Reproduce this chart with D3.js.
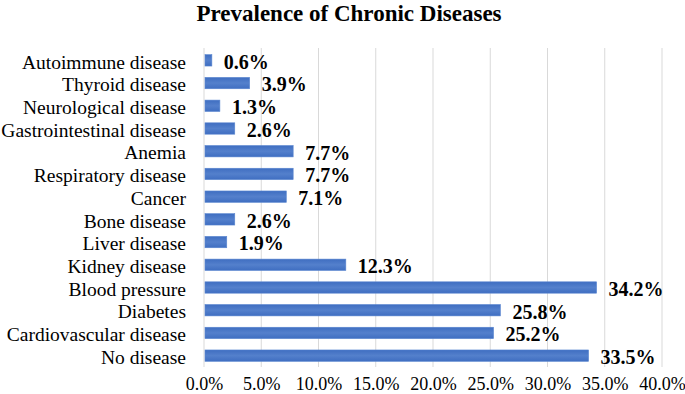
<!DOCTYPE html>
<html lang="en">
<head>
<meta charset="utf-8">
<title>Prevalence of Chronic Diseases</title>
<style>
  body { margin: 0; background: #fff; }
  svg text { font-family: "Liberation Serif", "Times New Roman", serif !important; fill: #000; }
</style>
</head>
<body>
<div id="chart"></div>
<script src="https://d3js.org/d3.v7.min.js"></script>
<script>
// Categories from top to bottom
var categories = [
  "Autoimmune disease", "Thyroid disease", "Neurological disease",
  "Gastrointestinal disease", "Anemia", "Respiratory disease", "Cancer",
  "Bone disease", "Liver disease", "Kidney disease", "Blood pressure",
  "Diabetes", "Cardiovascular disease", "No disease"
];
var values = [0.6, 3.9, 1.3, 2.6, 7.7, 7.7, 7.1, 2.6, 1.9, 12.3, 34.2, 25.8, 25.2, 33.5];
var ticks = [0, 5, 10, 15, 20, 25, 30, 35, 40];

var W = 685, H = 394;
var margin = { top: 48, right: 23, bottom: 27, left: 204 };
var width = W - margin.left - margin.right,
    height = H - margin.top - margin.bottom;

var svg = d3.select("#chart").append("svg")
  .attr("width", W)
  .attr("height", H);

// bar gradient (Excel-like shading)
var grad = svg.append("defs").append("linearGradient")
  .attr("id", "barGrad")
  .attr("x1", 0).attr("y1", 0).attr("x2", 0).attr("y2", 1);
grad.append("stop").attr("offset", "0%").attr("stop-color", "#3f6ec1");
grad.append("stop").attr("offset", "50%").attr("stop-color", "#5480cc");
grad.append("stop").attr("offset", "100%").attr("stop-color", "#3f6ec1");

// title
svg.append("text")
  .attr("x", 349)
  .attr("y", 20.5)
  .attr("text-anchor", "middle")
  .style("font-size", "23px")
  .style("font-weight", "bold")
  .text("Prevalence of Chronic Diseases");

var g = svg.append("g")
  .attr("transform", `translate(${margin.left},${margin.top})`);

var x = d3.scaleLinear().domain([0, 40]).range([0, 458]);
var y = d3.scaleBand().domain(categories).range([1, height]).paddingInner(0.5).paddingOuter(0.25);

// gridlines
g.append("g")
  .selectAll("line")
  .data(ticks)
  .join("line")
  .attr("x1", d => x(d)).attr("x2", d => x(d))
  .attr("y1", 0).attr("y2", height)
  .attr("stroke", "#d9d9d9")
  .attr("stroke-width", 1);

// x tick labels
var xAxis = g.append("g")
  .attr("transform", `translate(0,${height})`)
  .call(d3.axisBottom(x).tickValues(ticks).tickSize(0).tickPadding(0)
    .tickFormat(d => d.toFixed(1) + "%"));
xAxis.select(".domain").remove();
xAxis.selectAll("text")
  .attr("y", 0)
  .attr("dy", "23px")
  .style("font-size", "18px");

// y axis labels
var yAxis = g.append("g")
  .call(d3.axisLeft(y).tickSize(0).tickPadding(18));
yAxis.select(".domain").remove();
yAxis.selectAll("text")
  .attr("dy", "0.42em")
  .style("font-size", "19.5px");

// bars
g.append("g")
  .selectAll("rect")
  .data(values)
  .join("rect")
  .attr("x", x(0) + 1)
  .attr("y", (d, i) => y(categories[i]))
  .attr("width", d => x(d) - x(0))
  .attr("height", y.bandwidth())
  .attr("fill", "url(#barGrad)")
  .attr("stroke", "#5a86d0")
  .attr("stroke-width", 0.6);

// value labels
g.append("g")
  .selectAll("text")
  .data(values)
  .join("text")
  .attr("x", d => x(d) + 13)
  .attr("y", (d, i) => y(categories[i]) + y.bandwidth() / 2)
  .attr("dy", "0.42em")
  .style("font-size", "20px")
  .style("font-weight", "bold")
  .text(d => d.toFixed(1) + "%");
</script>
</body>
</html>
